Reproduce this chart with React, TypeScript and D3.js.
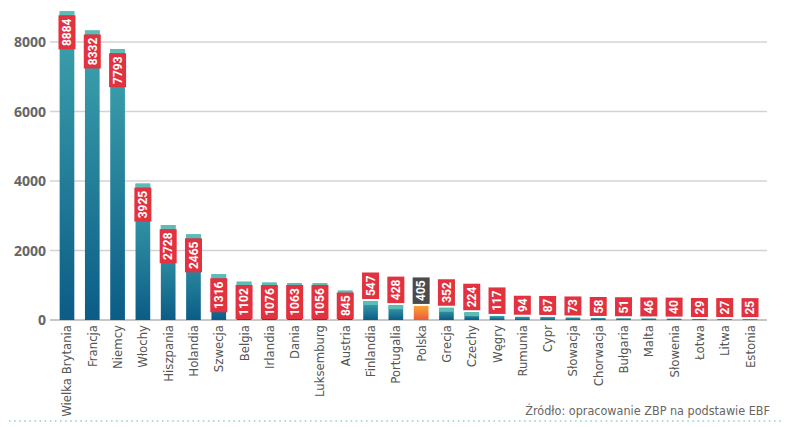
import * as d3 from "d3";
import { useEffect, useRef } from "react";

const countries = [
  "Wielka Brytania", "Francja", "Niemcy", "Włochy", "Hiszpania", "Holandia",
  "Szwecja", "Belgia", "Irlandia", "Dania", "Luksemburg", "Austria",
  "Finlandia", "Portugalia", "Polska", "Grecja", "Czechy", "Węgry",
  "Rumunia", "Cypr", "Słowacja", "Chorwacja", "Bułgaria", "Malta",
  "Słowenia", "Łotwa", "Litwa", "Estonia",
];
const values = [
  8884, 8332, 7793, 3925, 2728, 2465, 1316, 1102, 1076, 1063, 1056, 845,
  547, 428, 405, 352, 224, 117, 94, 87, 73, 58, 51, 46, 40, 29, 27, 25,
];
const yTicks = [0, 2000, 4000, 6000, 8000];
const highlight = "Polska";
const sourceText = "Źródło: opracowanie ZBP na podstawie EBF";

const width = 786;
const height = 427;
const baseY = 320;
const narrow = "'Liberation Sans Narrow', 'DejaVu Sans Condensed', Roboto, sans-serif";

export default function App() {
  const svgRef = useRef<SVGSVGElement>(null);

  useEffect(() => {
    if (!svgRef.current) return;
    const svg = d3.select(svgRef.current);
    svg.selectAll("*").remove();

    const x = d3.scaleBand<string>().domain(countries).range([47, 770])
      .paddingInner(0.42).paddingOuter(0.5);
    const y = d3.scaleLinear().domain([0, 8000]).range([baseY, 42]);

    const defs = svg.append("defs");
    const blue = defs.append("linearGradient").attr("id", "gBlue")
      .attr("x1", 0).attr("y1", 0).attr("x2", 0).attr("y2", 1);
    blue.append("stop").attr("offset", "0%").attr("stop-color", "#3fa5ae");
    blue.append("stop").attr("offset", "100%").attr("stop-color", "#0b5c86");
    const orange = defs.append("linearGradient").attr("id", "gOrange")
      .attr("x1", 0).attr("y1", 0).attr("x2", 0).attr("y2", 1);
    orange.append("stop").attr("offset", "0%").attr("stop-color", "#f8a533");
    orange.append("stop").attr("offset", "100%").attr("stop-color", "#ec5a3c");

    // grid + y labels
    const grid = svg.append("g");
    grid.selectAll("line").data(yTicks).join("line")
      .attr("x1", 50).attr("x2", 767)
      .attr("y1", (d) => y(d)).attr("y2", (d) => y(d))
      .attr("stroke", (d) => (d === 0 ? "#b5b5b5" : "#d3d3d3"))
      .attr("stroke-width", 1.3);
    grid.selectAll("text").data(yTicks).join("text")
      .attr("x", 46).attr("y", (d) => y(d) + 5)
      .attr("text-anchor", "end")
      .attr("font-family", "'Open Sans', sans-serif")
      .attr("font-weight", 700).attr("font-size", 14)
      .attr("fill", "#666")
      .text((d) => String(d));

    const data = countries.map((c, i) => ({ c, v: values[i] }));
    const bw = x.bandwidth();

    // bars
    const bars = svg.append("g");
    bars.selectAll("rect.bar").data(data).join("rect").attr("class", "bar")
      .attr("x", (d) => x(d.c)!)
      .attr("width", bw)
      .attr("y", (d) => y(d.v))
      .attr("height", (d) => baseY - y(d.v))
      .attr("fill", (d) => (d.c === highlight ? "url(#gOrange)" : "url(#gBlue)"));
    bars.selectAll("rect.cap").data(data.filter((d) => d.c !== highlight && baseY - y(d.v) > 6))
      .join("rect").attr("class", "cap")
      .attr("x", (d) => x(d.c)!)
      .attr("width", bw)
      .attr("y", (d) => y(d.v))
      .attr("height", 4)
      .attr("fill", "#5cbdb6");

    // value labels: inside the bar when it fits, otherwise above it
    const boxW = 17;
    const labels = svg.append("g");
    data.forEach((d) => {
      const len = String(d.v).length * 7.5 + 4;
      const top = y(d.v);
      const h = baseY - top;
      let boxTop: number;
      if (h >= len) boxTop = Math.min(top + 4, baseY - len - 1);
      else boxTop = top - 2 - len;
      const cx = x(d.c)! + bw / 2;
      labels.append("rect")
        .attr("x", cx - boxW / 2).attr("y", boxTop)
        .attr("width", boxW).attr("height", len)
        .attr("fill", d.c === highlight ? "#4b4b4d" : "#e2323f");
      labels.append("text")
        .attr("transform", `translate(${cx + 4.3},${boxTop + len / 2}) rotate(-90)`)
        .attr("text-anchor", "middle")
        .attr("font-family", "Roboto, sans-serif")
        .attr("font-weight", 700).attr("font-size", 12)
        .attr("fill", "#fff")
        .text(String(d.v));
    });

    // x labels
    svg.append("g").selectAll("text").data(countries).join("text")
      .attr("transform", (c) => `translate(${x(c)! + bw / 2 + 4.5},${baseY + 5}) rotate(-90)`)
      .attr("text-anchor", "end")
      .attr("font-family", narrow)
      .attr("font-size", 13)
      .attr("fill", "#555")
      .text((c) => c);

    // source
    svg.append("text")
      .attr("x", 770).attr("y", 415)
      .attr("text-anchor", "end")
      .attr("font-family", narrow)
      .attr("font-size", 12.5)
      .attr("fill", "#666")
      .text(sourceText);

    svg.append("line")
      .attr("x1", 9).attr("x2", 782).attr("y1", 421).attr("y2", 421)
      .attr("stroke", "#8fcfca").attr("stroke-width", 1.5)
      .attr("stroke-dasharray", "1.5 3.6");
  }, []);

  return (
    <svg
      ref={svgRef}
      width={width}
      height={height}
      style={{ position: "absolute", left: 0, top: 0, background: "#fff" }}
    />
  );
}
